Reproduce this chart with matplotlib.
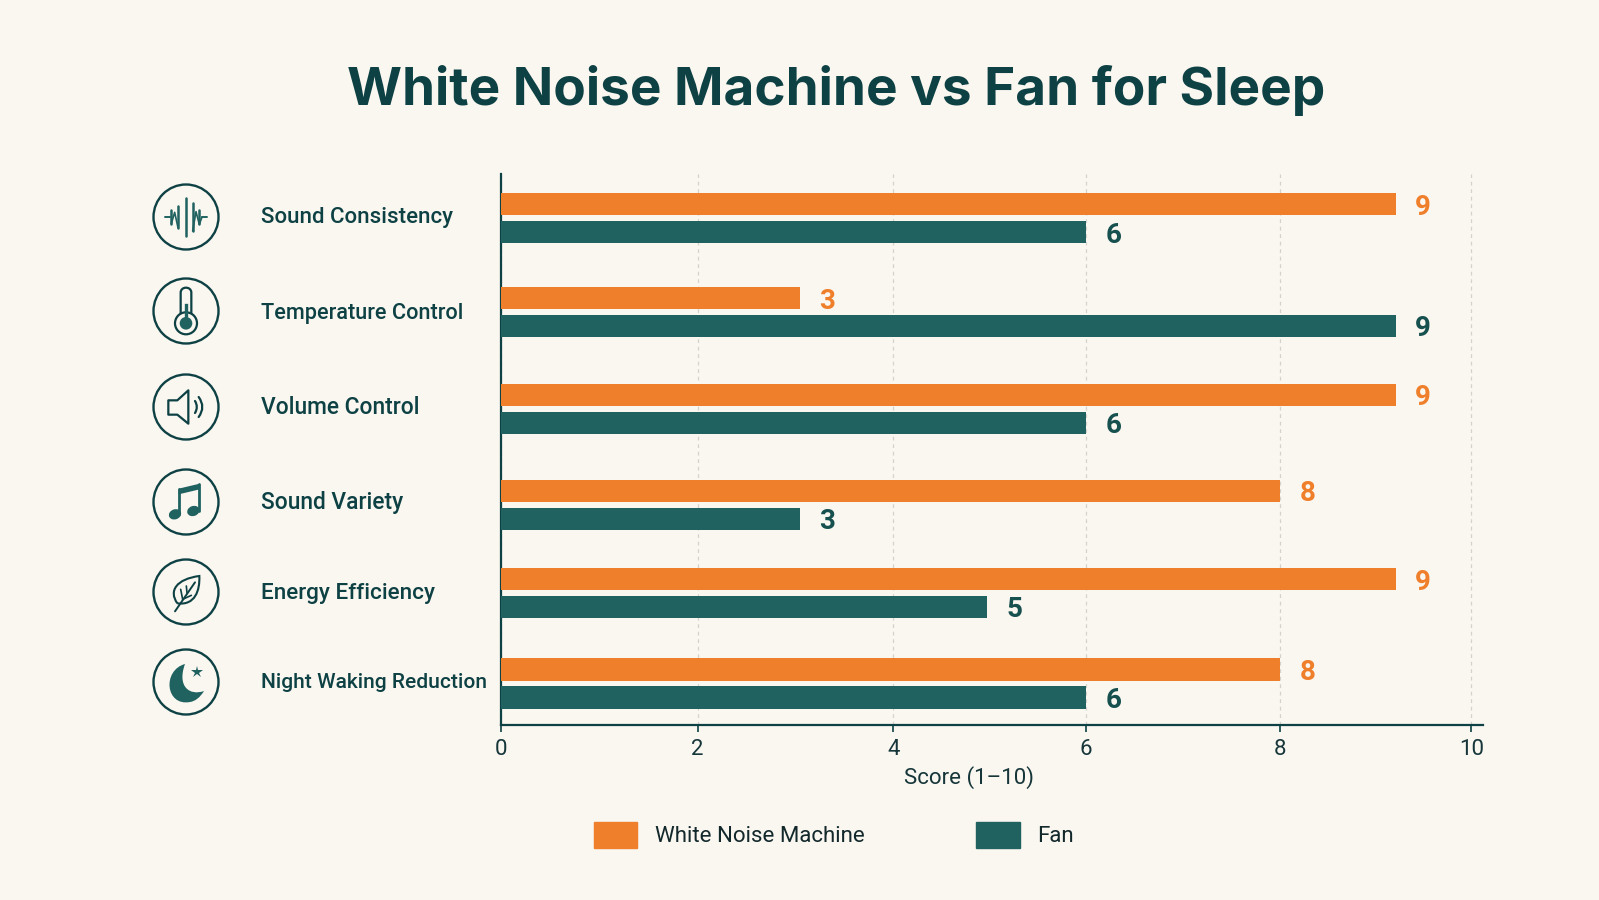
import numpy as np
import matplotlib.pyplot as plt
from matplotlib.patches import Circle, Ellipse, PathPatch, Patch, Polygon
from matplotlib.path import Path

categories = ["Sound Consistency", "Temperature Control", "Volume Control",
              "Sound Variety", "Energy Efficiency", "Night Waking Reduction"]
white_noise = [9, 3, 9, 8, 9, 8]
fan = [6, 9, 6, 3, 5, 6]
x_ticks = [0, 2, 4, 6, 8, 10]

BG = "#FAF6F0"
ORANGE = "#EF7F2A"
TEAL = "#1F6260"
INK = "#0D4144"
TICK_INK = "#16363A"

plt.rcParams["font.family"] = ["Inter", "DejaVu Sans"]
NARROW = ["Roboto", "DejaVu Sans"]

W, H = 1599, 900
fig = plt.figure(figsize=(W / 100, H / 100), dpi=100, facecolor=BG)

# axes box in pixels from the top left
left, right, top, bottom = 501.5, 1483, 174, 725
ax = fig.add_axes([left / W, 1 - bottom / H, (right - left) / W, (bottom - top) / H])
ax.set_facecolor("none")

# the score axis is not quite even, it stretches a little around 9
knots = [0, 2, 3, 4, 5, 6, 8, 9, 10, 11]
stretch = [0, 196.5, 299, 392.5, 486, 585.5, 780, 895.5, 971.5, 1068]
ax.set_xscale("function", functions=(lambda v: np.interp(v, knots, stretch),
                                     lambda v: np.interp(v, stretch, knots)))
ax.set_xlim(0, 10.12)
ax.set_ylim(5.447, -0.476)

# rows are not spaced quite evenly
row_pos = [0, 1.01, 2.05, 3.08, 4.03, 5.0]
bar_h = 0.24
shift = 0.15
y1 = [p - shift for p in row_pos]
y2 = [p + shift for p in row_pos]

ax.barh(y1, white_noise, height=bar_h, color=ORANGE, zorder=3, label="White Noise Machine")
ax.barh(y2, fan, height=bar_h, color=TEAL, zorder=3, label="Fan")

for y, v in zip(y1, white_noise):
    ax.annotate(str(v), (v, y), xytext=(14, -2), textcoords="offset points", va="center",
                color=ORANGE, fontsize=20, fontweight="bold", family=NARROW)
for y, v in zip(y2, fan):
    ax.annotate(str(v), (v, y), xytext=(14, -2), textcoords="offset points", va="center",
                color="#16504F", fontsize=20, fontweight="bold", family=NARROW)

ax.set_xticks(x_ticks)
ax.set_yticks([])
ax.tick_params(axis="x", length=5, width=1.2, color=INK, pad=5)
for t in ax.get_xticklabels():
    t.set_family(NARROW)
    t.set_fontsize(16)
    t.set_color(TICK_INK)
ax.grid(axis="x", color="#D3D2CC", linestyle=(0, (3, 3)), linewidth=0.9, zorder=0)
ax.set_axisbelow(True)
for s in ["top", "right"]:
    ax.spines[s].set_visible(False)
for s in ["left", "bottom"]:
    ax.spines[s].set_color(INK)
    ax.spines[s].set_linewidth(1.6)
ax.set_xlabel("Score (1–10)", fontsize=16, color=TICK_INK, family=NARROW)
ax.xaxis.set_label_coords(0.476, -0.075)

fig.legend(handles=[Patch(color=ORANGE, label="White Noise Machine"), Patch(color=TEAL, label="Fan")],
           loc="center", bbox_to_anchor=(834 / W, 1 - 835 / H), ncol=2, frameon=False,
           prop={"family": NARROW, "size": 16}, labelcolor="#12282B", handlelength=1.96,
           handleheight=1.4, handletextpad=0.8, columnspacing=5.0)

# overlay in pixel units for title, row labels and icons
ov = fig.add_axes([0, 0, 1, 1], zorder=5)
ov.set_xlim(0, W)
ov.set_ylim(H, 0)
ov.axis("off")

ov.text(836, 90, "White Noise Machine vs Fan for Sleep", ha="center", va="center",
        fontsize=38.2, fontweight="bold", color=INK)

icon_x = 186
icon_y = [217, 311, 407, 502, 592, 682]
label_y = [218, 313, 408, 502, 593, 683]
label_size = [16, 15.6, 16.4, 16.4, 16.2, 15.1]
for name, ly, fs in zip(categories, label_y, label_size):
    ov.text(261, ly, name, va="center", fontsize=fs, fontweight="medium", color=INK, family=NARROW)
for iy in icon_y:
    ov.add_patch(Circle((icon_x, iy), 32.5, fill=False, ec=INK, lw=1.7))


def line(cx, cy, pts, lw=1.7, color=TEAL):
    # icon offsets are given in thirds of a pixel
    pts = np.array(pts) / 3
    ov.plot(cx + pts[:, 0], cy + pts[:, 1], color=color, lw=lw, solid_capstyle="round",
            solid_joinstyle="round")


def curve(cx, cy, verts, codes, **kw):
    verts = np.array(verts) / 3 + [cx, cy]
    ov.add_patch(PathPatch(Path(verts, codes), **kw))


# waveform
cy = icon_y[0]
line(icon_x, cy, [(-64, 0), (-48, 0)], 1.4)
line(icon_x, cy, [(48, 0), (64, 0)], 1.4)
for dx, h in [(-44, 20), (-24, 32), (0, 58), (20, 42), (40, 22)]:
    line(icon_x, cy, [(dx, -h), (dx, h)], 1.8)
line(icon_x, cy, [(-44, 20), (-34, -14), (-24, 32)], 1.2)
line(icon_x, cy, [(20, 42), (30, -16), (40, 22), (48, 0)], 1.2)

# thermometer
cy = icon_y[1]
C4 = Path.CURVE4
curve(icon_x, cy, [(-16, 18), (-16, -55), (-16, -75), (16, -75), (16, -55), (16, 18)],
      [Path.MOVETO, Path.LINETO, C4, C4, C4, Path.LINETO], fill=False, ec=INK, lw=1.6)
ov.add_patch(Circle((icon_x, cy + 12.3), 11, fc=BG, ec=INK, lw=1.6, zorder=3))
ov.add_patch(Circle((icon_x, cy + 12.3), 6.3, fc=TEAL, ec="none", zorder=4))
ov.plot([icon_x, icon_x], [cy - 6, cy + 10], color=TEAL, lw=2.4, zorder=4)

# speaker
cy = icon_y[2]
speaker = np.array([(-53, -20), (-26, -20), (7, -50), (7, 50), (-26, 23), (-53, 23)]) / 3 + [icon_x, cy]
ov.add_patch(Polygon(speaker, closed=True, fill=False, ec=INK, lw=1.6, joinstyle="round"))
curve(icon_x, cy, [(27, -18), (38, 0), (27, 18)], [Path.MOVETO, Path.CURVE3, Path.CURVE3],
      fill=False, ec=INK, lw=1.6, capstyle="round")
curve(icon_x, cy, [(38, -30), (60, 0), (38, 30)], [Path.MOVETO, Path.CURVE3, Path.CURVE3],
      fill=False, ec=INK, lw=1.6, capstyle="round")

# music notes
cy = icon_y[3]
for hx, hy in [(-33, 37), (22, 27)]:
    ov.add_patch(Ellipse((icon_x + hx / 3, cy + hy / 3), 12.5, 10, angle=-20, fc=TEAL, ec="none"))
line(icon_x, cy, [(-20, -38), (-20, 37)], 2.0)
line(icon_x, cy, [(39, -53), (39, 27)], 2.0)
ov.add_patch(Polygon(np.array([(-22, -40), (41, -55), (41, -38), (-22, -23)]) / 3 + [icon_x, cy],
                     closed=True, fc=TEAL, ec="none"))

# leaf
cy = icon_y[4]
curve(icon_x, cy, [(-26, 34), (-53, -4), (-28, -39), (40, -48), (42, -4), (27, 41), (-26, 34)],
      [Path.MOVETO, C4, C4, C4, C4, C4, C4], fill=False, ec=INK, lw=1.5)
line(icon_x, cy, [(-33, 58), (27, -29)], 1.4, INK)
line(icon_x, cy, [(-10, 22), (-16, -8)], 1.2, INK)
line(icon_x, cy, [(-10, 22), (16, 10)], 1.2, INK)
line(icon_x, cy, [(3, 3), (1, -18)], 1.2, INK)

# moon and star
cy = icon_y[5]
curve(icon_x, cy, [(-3, -54), (-72, -35), (-62, 74), (12, 60), (27, 58), (42, 47), (54, 27),
                   (12, 42), (-28, 15), (-3, -54)],
      [Path.MOVETO, C4, C4, C4, C4, C4, C4, C4, C4, C4], fc=TEAL, ec="none")
ov.plot([icon_x + 34 / 3], [cy - 30 / 3], marker="*", ms=9, color=TEAL, mew=0)

fig.savefig("out.png", dpi=100, facecolor=BG)
